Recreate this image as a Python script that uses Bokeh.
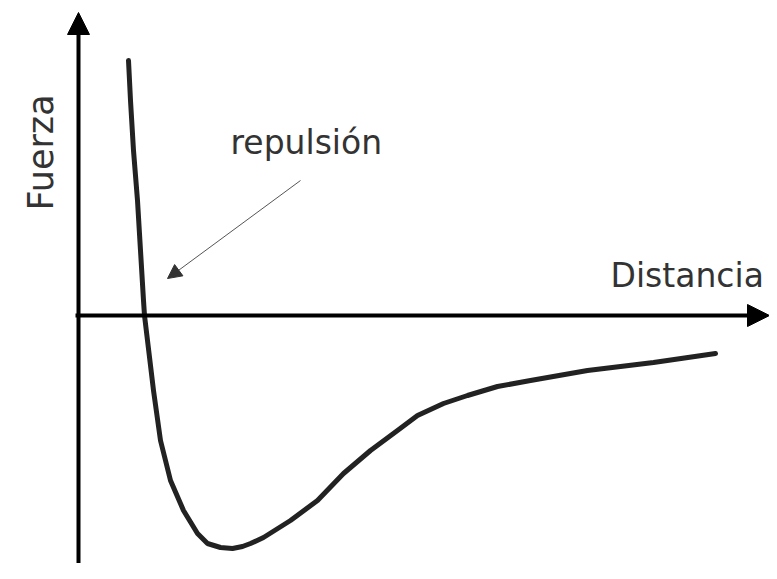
import math
from bokeh.plotting import figure
from bokeh.models import Range1d, Arrow, NormalHead, Label
from bokeh.embed import file_html
from bokeh.resources import INLINE

# Curve: distance vs force (arbitrary units, origin at axes crossing)
distance = [0.50, 0.52, 0.55, 0.59, 0.62, 0.65, 0.66, 0.69, 0.75, 0.82, 0.92, 1.05,
            1.19, 1.29, 1.42, 1.54, 1.64, 1.72, 1.85, 2.12, 2.39, 2.65, 2.92, 3.19,
            3.39, 3.65, 3.89, 4.19, 4.52, 5.09, 5.75, 6.37]
force = [2.55, 2.15, 1.65, 1.15, 0.65, 0.15, 0.00, -0.25, -0.75, -1.25, -1.65, -1.95,
         -2.18, -2.28, -2.32, -2.33, -2.31, -2.28, -2.22, -2.05, -1.85, -1.58, -1.35, -1.15,
         -1.00, -0.88, -0.80, -0.71, -0.65, -0.55, -0.47, -0.38]

y_label = "Fuerza"
x_label = "Distancia"
note_label = "repulsión"

p = figure(width=769, height=563, output_backend="svg", toolbar_location=None,
           x_range=Range1d(-0.78, 6.91), y_range=Range1d(-2.48, 3.15),
           min_border=0, background_fill_color="white", border_fill_color="white")
p.axis.visible = False
p.grid.visible = False
p.outline_line_color = None

# Axes with arrowheads
p.add_layout(Arrow(end=NormalHead(size=22, fill_color="black", line_color="black"),
                   x_start=0, y_start=-2.70, x_end=0, y_end=3.03,
                   line_width=4, line_color="black"))
p.add_layout(Arrow(end=NormalHead(size=22, fill_color="black", line_color="black"),
                   x_start=-0.03, y_start=0, x_end=6.91, y_end=0,
                   line_width=4, line_color="black"))

# Curve
p.line(distance, force, line_width=5, line_color="#222222", line_join="round", line_cap="round")

# Annotation arrow
p.add_layout(Arrow(end=NormalHead(size=14, fill_color="#333333", line_color="#333333"),
                   x_start=2.22, y_start=1.35, x_end=0.89, y_end=0.37,
                   line_width=1, line_color="#555555"))

font = "DejaVu Sans"
p.add_layout(Label(x=-0.38, y=1.05, text=y_label, angle=math.pi / 2,
                   text_font=font, text_font_size="35px", text_color="#333333",
                   text_align="left", text_baseline="alphabetic"))
p.add_layout(Label(x=5.32, y=0.40, text=x_label,
                   text_font=font, text_font_size="33px", text_color="#333333",
                   text_align="left", text_baseline="alphabetic"))
p.add_layout(Label(x=1.52, y=1.73, text=note_label,
                   text_font=font, text_font_size="33px", text_color="#333333",
                   text_align="left", text_baseline="alphabetic"))

open("out.html", "w").write(file_html(p, INLINE))
